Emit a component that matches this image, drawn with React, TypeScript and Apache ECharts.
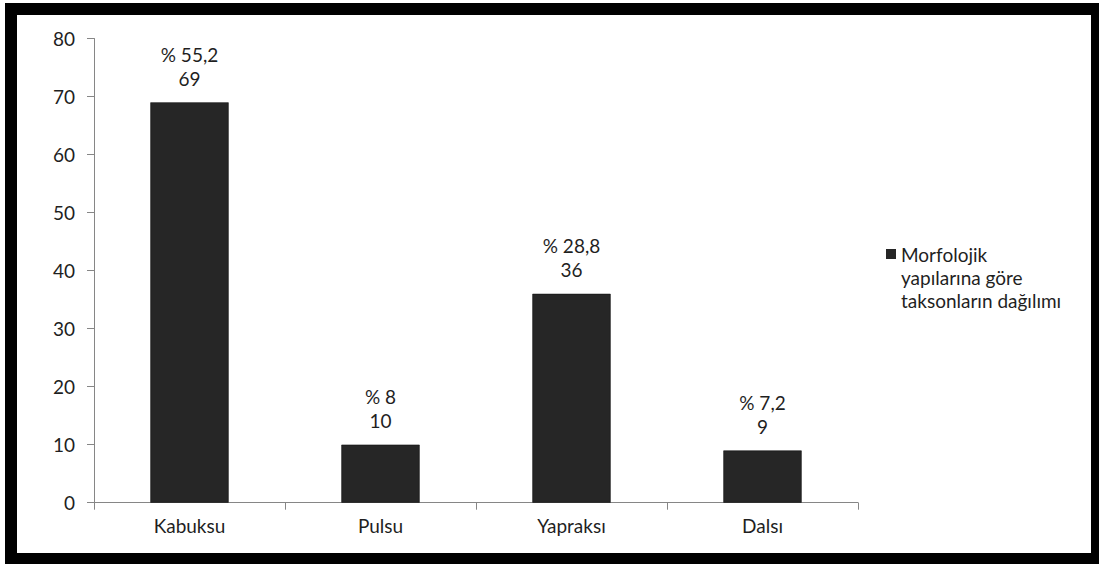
import React, { useEffect, useRef } from "react";
import * as echarts from "echarts";

const categories = ["Kabuksu", "Pulsu", "Yapraksı", "Dalsı"];
const counts = [69, 10, 36, 9];
const percents = ["55,2", "8", "28,8", "7,2"];
const seriesName = "Morfolojik yapılarına göre taksonların dağılımı";
const legendLines = ["Morfolojik", "yapılarına göre", "taksonların dağılımı"];
const yTicks = { min: 0, max: 80, interval: 10 };

const FONT = "Lato, 'Open Sans', sans-serif";
const TEXT = "#1f1f1f";
const FS = 19;

export default function App() {
  const ref = useRef<HTMLDivElement>(null);
  useEffect(() => {
    if (!ref.current) return;
    const chart = echarts.init(ref.current, null, { renderer: "svg" });
    chart.setOption({
      animation: false,
      backgroundColor: "#ffffff",
      textStyle: { fontFamily: FONT, color: TEXT },
      graphic: [
        {
          type: "rect",
          z: -10,
          silent: true,
          shape: { x: 5, y: 3, width: 1100, height: 570 },
          style: { fill: "#000000" },
        },
        {
          type: "rect",
          z: -9,
          silent: true,
          shape: { x: 17, y: 15, width: 1074, height: 538 },
          style: { fill: "#ffffff" },
        },
      ],
      grid: { left: 94, right: 1099 - 858, top: 38.5, bottom: 564 - 502.7, containLabel: false },
      legend: {
        orient: "vertical",
        left: 886,
        top: 242.5,
        padding: 0,
        itemWidth: 10,
        itemHeight: 56,
        icon: "path://M0,0 H10 V10 H0 Z M0,55.99 H0.01 V56 H0 Z",
        itemStyle: { borderWidth: 0 },
        data: [seriesName],
        formatter: () => legendLines.join("\n"),
        textStyle: {
          fontFamily: FONT,
          fontSize: FS,
          color: TEXT,
          lineHeight: 23,
        },
      },
      xAxis: {
        type: "category",
        data: categories,
        axisLine: { show: true, lineStyle: { color: "#868686", width: 1 } },
        axisTick: { show: true, length: 7, lineStyle: { color: "#868686" } },
        axisLabel: { fontFamily: FONT, fontSize: FS, color: TEXT, margin: 13 },
        splitLine: { show: false },
      },
      yAxis: {
        type: "value",
        min: yTicks.min,
        max: yTicks.max,
        interval: yTicks.interval,
        axisLine: { show: true, lineStyle: { color: "#868686", width: 1 } },
        axisTick: { show: true, length: 7, lineStyle: { color: "#868686" } },
        axisLabel: { fontFamily: FONT, fontSize: FS, color: TEXT, margin: 19 },
        splitLine: { show: false },
      },
      series: [
        {
          name: seriesName,
          type: "bar",
          data: counts,
          barCategoryGap: "59%",
          itemStyle: { color: "#262626", borderColor: "#111111", borderWidth: 0.6 },
          label: {
            show: true,
            position: "top",
            distance: 12,
            fontFamily: FONT,
            fontSize: FS,
            lineHeight: 24,
            color: TEXT,
            align: "center",
            formatter: (p: any) => `% ${percents[p.dataIndex]}\n${counts[p.dataIndex]}`,
          },
        },
      ],
    });
    return () => chart.dispose();
  }, []);
  return (
    <div
      ref={ref}
      style={{ position: "fixed", left: 0, top: 0, width: 1099, height: 564 }}
    />
  );
}
